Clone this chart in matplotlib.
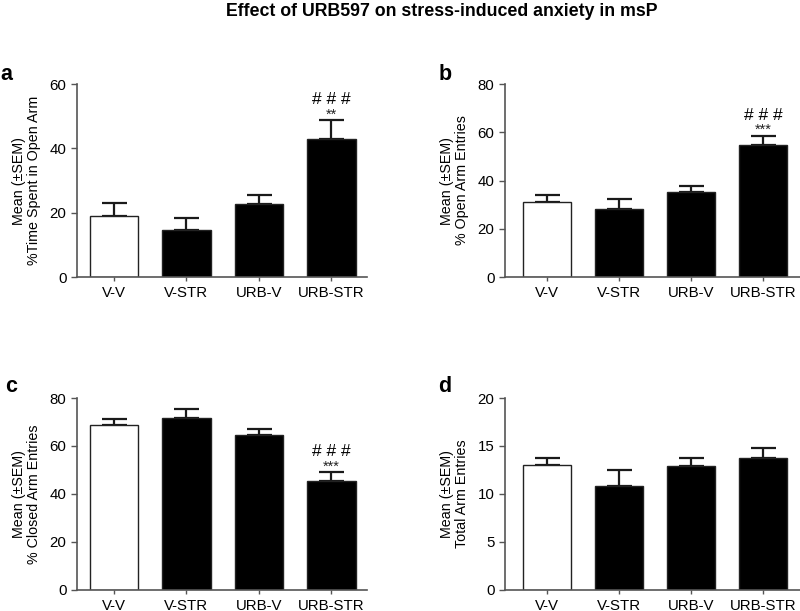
import matplotlib
matplotlib.use("Agg")
import matplotlib.pyplot as plt
from matplotlib import font_manager

plt.rcParams['font.family'] = ['Liberation Sans', 'DejaVu Sans']

groups = ["V-V", "V-STR", "URB-V", "URB-STR"]

a_mean = [19.0, 14.6, 22.6, 42.9]
a_sem = [3.9, 3.7, 2.9, 5.8]
b_mean = [31.2, 28.3, 35.4, 54.8]
b_sem = [2.8, 3.9, 2.3, 3.7]
c_mean = [68.6, 71.7, 64.6, 45.3]
c_sem = [2.7, 3.7, 2.5, 3.8]
d_mean = [13.0, 10.85, 12.9, 13.7]
d_sem = [0.8, 1.63, 0.8, 1.07]

a_sig = ["", "", "", "**"]
b_sig = ["", "", "", "***"]
c_sig = ["", "", "", "***"]
d_sig = ["", "", "", ""]
a_hash = ["", "", "", "# # #"]
b_hash = ["", "", "", "# # #"]
c_hash = ["", "", "", "# # #"]
d_hash = ["", "", "", ""]

fig = plt.figure(figsize=(8, 6.11), dpi=100)

narrow = 'Liberation Sans Narrow'
avail = {f.name for f in font_manager.fontManager.ttflist}
title_family = [narrow, 'Liberation Sans'] if narrow in avail else ['Liberation Sans']
fig.text(0.5525, 0.981, "Effect of URB597 on stress-induced anxiety in msP",
         ha='center', va='center', fontsize=12.8, fontweight='bold', family=title_family)

panels = [
    ("a", a_mean, a_sem, a_sig, a_hash, "Mean (\u00b1SEM)\n%Time Spent in Open Arm", 60, 20,
     [0.09625, 0.5466, 0.3625, 0.3159], (-0.51, 3.49)),
    ("b", b_mean, b_sem, b_sig, b_hash, "Mean (\u00b1SEM)\n% Open Arm Entries", 80, 20,
     [0.63125, 0.5466, 0.369, 0.3159], (-0.575, 3.51)),
    ("c", c_mean, c_sem, c_sig, c_hash, "Mean (\u00b1SEM)\n% Closed Arm Entries", 80, 20,
     [0.09625, 0.0344, 0.3625, 0.3142], (-0.51, 3.49)),
    ("d", d_mean, d_sem, d_sig, d_hash, "Mean (\u00b1SEM)\nTotal Arm Entries", 20, 5,
     [0.63125, 0.0344, 0.369, 0.3142], (-0.575, 3.51)),
]

letter_pos = {"a": (0.0, 0.878), "b": (0.548, 0.878), "c": (0.006, 0.367), "d": (0.548, 0.367)}
spine_col = '#555555'

for letter, means, sems, sig, hashes, ylabel, ymax, ystep, rect, xl in panels:
    ax = fig.add_axes(rect)
    x = list(range(len(groups)))
    colors = ['white'] + ['black'] * (len(groups) - 1)
    ax.bar(x, means, width=0.665, color=colors, edgecolor='#222222', linewidth=1.0, zorder=2)
    ax.errorbar(x, means, yerr=[[0] * len(sems), sems], fmt='none', ecolor='#1a1a1a',
                elinewidth=1.6, capsize=9, capthick=1.6, zorder=1)
    for xi, m, s, st, hs in zip(x, means, sems, sig, hashes):
        if st:
            ax.annotate(st, (xi, m + s), xytext=(0, -1), textcoords='offset points',
                        ha='center', va='bottom', fontsize=10.5, color='#222222')
        if hs:
            ax.annotate(hs, (xi, m + s), xytext=(0, 9.5), textcoords='offset points',
                        ha='center', va='bottom', fontsize=12.5)
    ax.set_ylim(0, ymax)
    ax.set_xlim(*xl)
    ax.set_yticks(range(0, ymax + 1, ystep))
    ax.set_xticks(x)
    ax.set_xticklabels(groups)
    ax.tick_params(axis='both', labelsize=10.8, color=spine_col, length=4, width=1)
    ax.tick_params(axis='x', length=3)
    for sp in ['top', 'right']:
        ax.spines[sp].set_visible(False)
    for sp in ['left', 'bottom']:
        ax.spines[sp].set_color(spine_col)
        ax.spines[sp].set_linewidth(1.2)
    ax.set_ylabel(ylabel, fontsize=10.3, labelpad=6, linespacing=1.1)
    lx, ly = letter_pos[letter]
    fig.text(lx, ly, letter, fontsize=15.5, fontweight='bold', ha='left', va='center')

fig.savefig("out.png", dpi=100)
